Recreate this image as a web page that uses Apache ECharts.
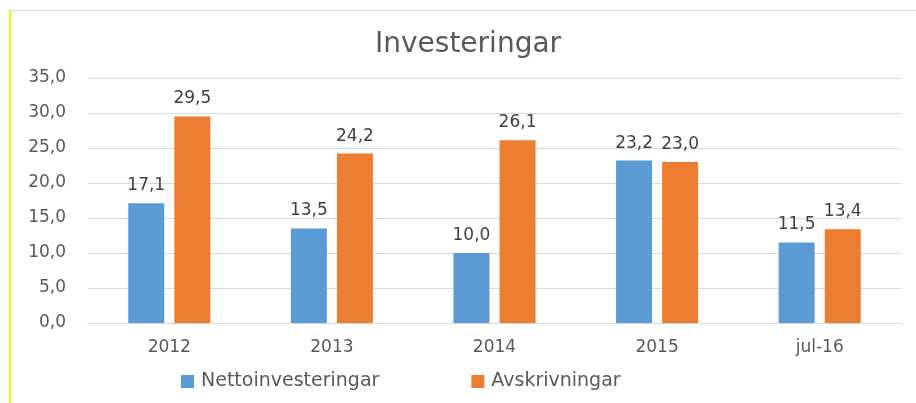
<!DOCTYPE html>
<html>
<head>
    <meta charset="utf-8">
    <title>Investeringar</title>
    <script src="https://cdn.jsdelivr.net/npm/echarts@6/dist/echarts.min.js"></script>
    <style>
        html, body {
            margin: 0;
            padding: 0;
            width: 916px;
            height: 403px;
            background: #ffffff;
            overflow: hidden;
        }

        #frame {
            position: absolute;
            left: 9px;
            top: 10px;
            width: 920px;
            height: 400px;
            border-top: 1px solid #d9d9d9;
            border-left: 2px solid #f5f500;
        }

        #main {
            position: absolute;
            left: 0;
            top: 0;
            width: 916px;
            height: 403px;
        }
    </style>
</head>
<body>
<div id="frame"></div>
<div id="main"></div>
<script type="text/javascript">
    var myChart = echarts.init(document.getElementById('main'));

    const categories = ['2012', '2013', '2014', '2015', 'jul-16'];
    const netto = [17.1, 13.5, 10.0, 23.2, 11.5];
    const avskr = [29.5, 24.2, 26.1, 23.0, 13.4];
    const seriesNames = ['Nettoinvesteringar', 'Avskrivningar'];
    const colors = ['#5b9bd5', '#ed7d31'];

    const fontName = 'DejaVu Sans';

    function fmt(v) {
        return v.toFixed(1).replace('.', ',');
    }

    var option = {
        color: colors,
        animation: false,
        title: {
            text: 'Investeringar',
            left: 370,
            top: 26,
            textStyle: {
                fontFamily: fontName,
                fontSize: 28,
                fontWeight: 'normal',
                color: '#595959'
            }
        },
        legend: {
            bottom: 7,
            left: 176,
            itemGap: 92,
            itemWidth: 13,
            itemHeight: 13,
            icon: 'rect',
            textStyle: {
                fontFamily: fontName,
                fontSize: 19,
                color: '#595959',
                padding: [0, 0, 0, 2]
            },
            data: seriesNames
        },
        grid: {
            left: 88,
            right: 15,
            top: 78,
            bottom: 80
        },
        xAxis: {
            type: 'category',
            data: categories,
            axisLine: {lineStyle: {color: '#d9d9d9'}},
            axisTick: {show: false},
            axisLabel: {
                margin: 16,
                fontFamily: fontName,
                fontSize: 17,
                color: '#595959'
            }
        },
        yAxis: {
            type: 'value',
            min: 0,
            max: 35,
            interval: 5,
            axisLine: {show: false},
            axisTick: {show: false},
            splitLine: {lineStyle: {color: '#d9d9d9'}},
            axisLabel: {
                margin: 22,
                fontFamily: fontName,
                fontSize: 17,
                color: '#595959',
                formatter: fmt
            }
        },
        series: [
            {
                name: seriesNames[0],
                type: 'bar',
                data: netto,
                barWidth: 36,
                barGap: '28%',
                label: {
                    show: true,
                    position: 'top',
                    distance: 9,
                    fontFamily: fontName,
                    fontSize: 17,
                    color: '#404040',
                    formatter: function (p) { return fmt(p.value); }
                }
            },
            {
                name: seriesNames[1],
                type: 'bar',
                data: avskr,
                barWidth: 36,
                label: {
                    show: true,
                    position: 'top',
                    distance: 9,
                    fontFamily: fontName,
                    fontSize: 17,
                    color: '#404040',
                    formatter: function (p) { return fmt(p.value); }
                }
            }
        ]
    };

    myChart.setOption(option);
</script>
</body>
</html>
